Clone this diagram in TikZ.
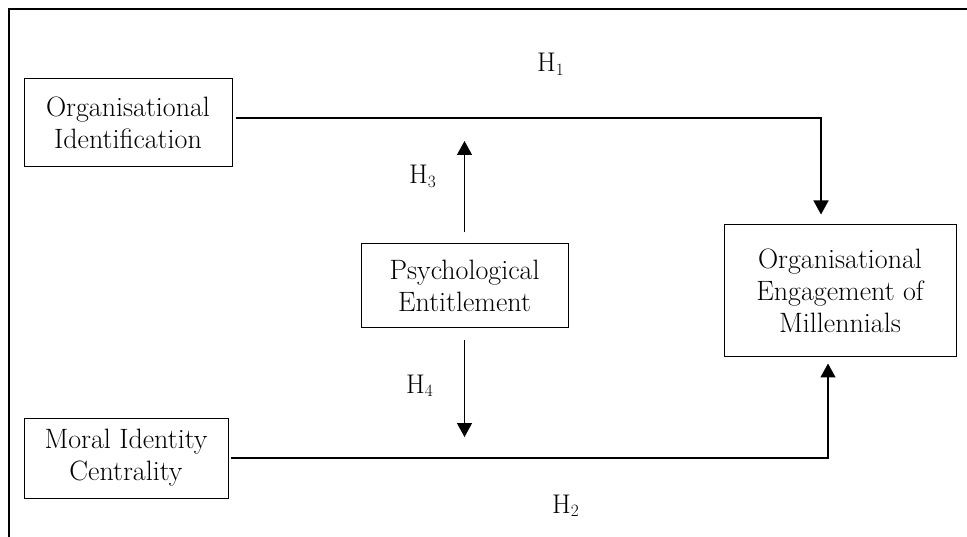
\documentclass[tikz,border=0pt]{standalone}
\usepackage{fontspec}
\usetikzlibrary{arrows.meta,calc}
\tikzset{
  box/.style={draw, line width=1pt, inner sep=0pt, align=center,
    font=\fontsize{28}{32}\selectfont},
  conn/.style={line width=1.4pt},
  arr/.style={conn, -{Triangle[width=15pt,length=14pt]}},
  hlab/.style={anchor=base west, inner sep=0pt, font=\fontsize{27}{31}\selectfont},
}
\begin{document}
\begin{tikzpicture}[x=1pt,y=-1pt]
\useasboundingbox (0,0) rectangle (967,537);
% frame
\draw[line width=1.6pt] (9,537) -- (9,9) -- (967,9);
% boxes
\node[box, minimum width=208pt, minimum height=88pt] (oi) at (128,123) {Organisational\\Identification};
\node[box, minimum width=204pt, minimum height=80pt] (mi) at (126,458) {Moral Identity\\Centrality};
\node[box, minimum width=207pt, minimum height=84pt] (pe) at (464.5,286) {Psychological\\Entitlement};
\node[box, minimum width=232pt, minimum height=132pt] (oe) at (840,291) {Organisational\\Engagement of\\Millennials};
% connector points
\coordinate (t1) at (236,118);
\coordinate (t2) at (821,118);
\coordinate (b2) at (828,458);
\coordinate (u) at (464.5,141);
\coordinate (d) at (464.5,437);
% connectors
\draw[arr, shorten >=10pt] (t1) -- (t2) -- (t2 |- oe.north);
\draw[arr, shorten <=2pt, shorten >=6pt] (mi.east) -- (b2) -- (b2 |- oe.south);
\draw[arr, shorten <=11pt] (pe.north) -- (u);
\draw[arr, shorten <=12pt] (pe.south) -- (d);
% labels
\node[hlab] (h1) at (537,72) {H$_{1}$};
\node[hlab] (h2) at (552,513) {H$_{2}$};
\node[hlab] (h3) at (409,184) {H$_{3}$};
\node[hlab] (h4) at (406,393) {H$_{4}$};
\end{tikzpicture}
\end{document}
